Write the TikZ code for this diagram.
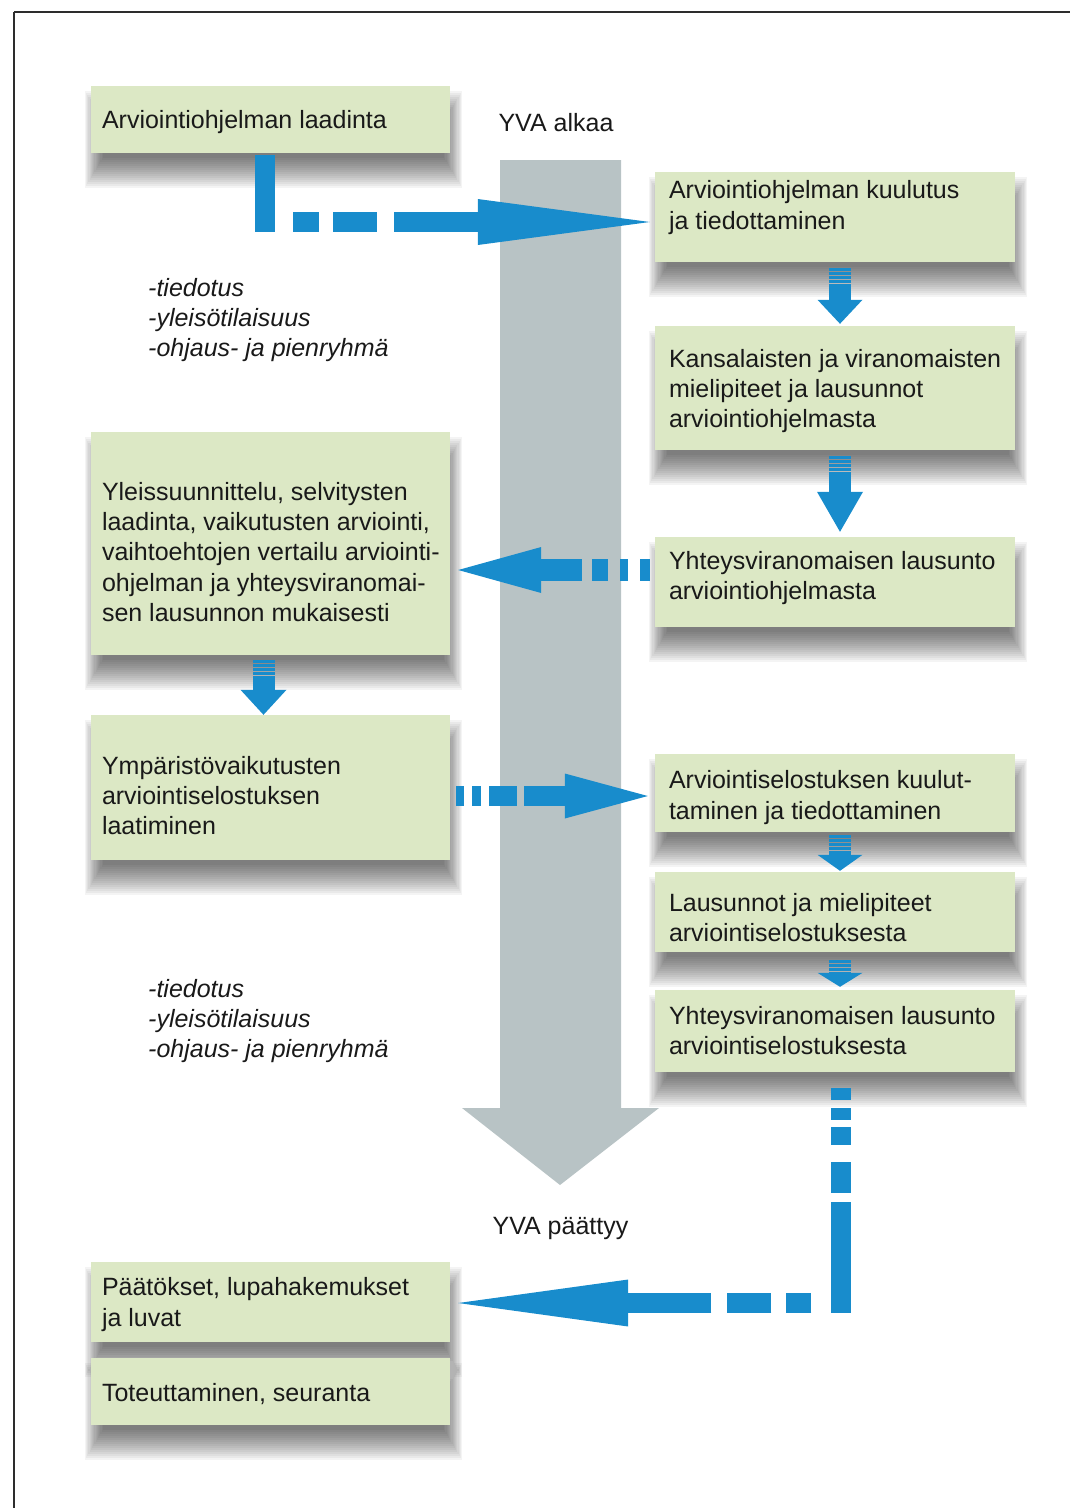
\documentclass[tikz,border=0pt]{standalone}
\usepackage{fontspec}
\setmainfont{Liberation Sans}
\usetikzlibrary{calc,arrows.meta,backgrounds}
\definecolor{boxg}{RGB}{220,232,197}
\definecolor{arrb}{RGB}{24,140,204}
\definecolor{colg}{RGB}{184,195,197}
\definecolor{txtc}{RGB}{25,25,25}
\definecolor{framec}{RGB}{45,45,45}
\newcommand\boxshade[1]{%
  \foreach \e in {-15,-13,...,15}{%
    \fill[black, fill opacity=0.045] ($(#1.north west)+({3-0.6*(\e)},{20-(\e)})$) rectangle ($(#1.south east)+({3+0.6*(\e)},{20+(\e)})$);
  }}
\tikzset{
  box/.style={rectangle, fill=boxg, draw=none, inner sep=0pt},
  lbox/.style={box, minimum width=359pt},
  rbox/.style={box, minimum width=360pt},
  txt/.style={font=\fontsize{25}{30.3}\selectfont, align=left, inner sep=0pt, anchor=west, text=txtc},
  itxt/.style={txt, font=\fontsize{25}{30.3}\selectfont\itshape},
  barrow/.style={draw=arrb, line width=20pt, line cap=butt, line join=miter},
  sarrow/.style={draw=arrb, line width=22pt, line cap=butt,
     dash pattern=on 2.5pt off 1.5pt on 2.5pt off 1.5pt on 2.5pt off 1.5pt on 2.5pt off 1.5pt on 300pt},
}
\begin{document}
\begin{tikzpicture}[x=1pt, y=-1pt]
\useasboundingbox (0,0) rectangle (1070,1508);
% frame
\draw[framec, line width=2.5pt] (14,12) -- (1070,12);
\draw[framec, line width=1.6pt] (14,12) -- (14,1508);

% boxes
\node[lbox, minimum height=67pt]  (b1)  at (270.5,119.5) {};
\node[rbox, minimum height=90pt]  (b2)  at (835,217) {};
\node[rbox, minimum height=124pt] (b3)  at (835,388) {};
\node[rbox, minimum height=90pt]  (b4)  at (835,582) {};
\node[lbox, minimum height=223pt] (b5)  at (270.5,543.5) {};
\node[lbox, minimum height=145pt] (b6)  at (270.5,787.5) {};
\node[rbox, minimum height=78pt]  (b7)  at (835,793) {};
\node[rbox, minimum height=80pt]  (b8)  at (835,912) {};
\node[rbox, minimum height=82pt]  (b9)  at (835,1031) {};
\node[lbox, minimum height=80pt]  (b10) at (270.5,1302) {};
\node[lbox, minimum height=67pt]  (b11) at (270.5,1391.5) {};

% texts
\node[txt] (t1) at ($(b1.west)+(11,3)$) {Arviointiohjelman laadinta};
\node[txt] (t2) at ($(b2.west)+(14,-9.5)$) {Arviointiohjelman kuulutus\\ja tiedottaminen};
\node[txt] (t3) at ($(b3.west)+(14,3)$) {Kansalaisten ja viranomaisten\\mielipiteet ja lausunnot\\arviointiohjelmasta};
\node[txt] (t4) at ($(b4.west)+(14,-4)$) {Yhteysviranomaisen lausunto\\arviointiohjelmasta};
\node[txt] (t5) at ($(b5.west)+(11,8.5)$) {Yleissuunnittelu, selvitysten\\laadinta, vaikutusten arviointi,\\vaihtoehtojen vertailu arviointi-\\ohjelman ja yhteysviranomai-\\sen lausunnon mukaisesti};
\node[txt] (t6) at ($(b6.west)+(11,8)$) {Ympäristövaikutusten\\arviointiselostuksen\\laatiminen};
\node[txt] (t7) at ($(b7.west)+(14,4.5)$) {Arviointiselostuksen kuulut-\\taminen ja tiedottaminen};
\node[txt] (t8) at ($(b8.west)+(14,5.5)$) {Lausunnot ja mielipiteet\\arviointiselostuksesta};
\node[txt] (t9) at ($(b9.west)+(14,-0.5)$) {Yhteysviranomaisen lausunto\\arviointiselostuksesta};
\node[txt] (t10) at ($(b10.west)+(11,2.5)$) {Päätökset, lupahakemukset\\ja luvat};
\node[txt] (t11) at ($(b11.west)+(11,3)$) {Toteuttaminen, seuranta};

\node[itxt] (i1) at (148,320) {-tiedotus\\-yleisötilaisuus\\-ohjaus- ja pienryhmä};
\node[itxt] (i2) at (148,1021) {-tiedotus\\-yleisötilaisuus\\-ohjaus- ja pienryhmä};

\node[txt, anchor=center] (yva1) at (556,122.5) {YVA alkaa};
\node[txt, anchor=center] (yva2) at (560.5,1228.5) {YVA päättyy};

% background: column and shadows
\begin{scope}[on background layer]
  \fill[colg] (500,160) -- (621,160) -- (621,1108) -- (659,1108) -- (560,1185)
     -- (462,1108) -- (500,1108) -- cycle;
  \foreach \b in {b1,b2,b3,b4,b5,b6,b7,b8,b9,b10,b11}{\boxshade{\b}}
\end{scope}

% blue connectors
\coordinate (s1) at ($(b1.south)+(-5.5,2)$);
\coordinate (e1) at ($(b2.west)+(-5,5)$);
\draw[barrow, dash pattern=on 77pt off 18pt on 26pt off 14pt on 44pt off 17pt on 600pt,
   -{Triangle[length=172pt,width=46pt,line width=0pt]}] (s1) |- (e1);

\draw[sarrow, -{Triangle[length=24pt,width=45pt,line width=0pt]}] ($(b2.south)+(5,6)$) -- ($(b3.north)+(5,-2)$);
\draw[sarrow, -{Triangle[length=40pt,width=46pt,line width=0pt]}] ($(b3.south)+(5,6)$) -- ($(b4.north)+(5,-5)$);
\draw[sarrow, -{Triangle[length=25pt,width=46pt,line width=0pt]}] ($(b5.south)+(-7,5)$) -- ($(b6.north)+(-7,0)$);
\draw[sarrow, -{Triangle[length=16pt,width=45pt,line width=0pt]}] ($(b7.south)+(5,3)$) -- ($(b8.north)+(5,-1)$);
\draw[sarrow, -{Triangle[length=14pt,width=45pt,line width=0pt]}] ($(b8.south)+(5,8)$) -- ($(b9.north)+(5,-3)$);

\coordinate (s3) at ($(b4.west)+(-5,-12)$);
\coordinate (m3) at (s3 -| b5.east);
\draw[barrow, line width=22pt, dash pattern=on 10pt off 12pt on 8pt off 12pt on 16pt off 10pt on 600pt,
   -{Triangle[length=83pt,width=46pt,line width=0pt]}] (s3) -- ($(m3)+(8,0)$);

\coordinate (s4) at ($(b6.east)+(6,8.5)$);
\coordinate (m4) at (s4 -| b7.west);
\draw[barrow, dash pattern=on 8pt off 8pt on 9pt off 8pt on 28pt off 7pt on 600pt,
   -{Triangle[length=83pt,width=45pt,line width=0pt]}] (s4) -- ($(m4)+(-7,0)$);

\coordinate (s5) at ($(b9.south)+(5.5,16)$);
\coordinate (e5) at ($(b10.east)+(8,1)$);
\draw[barrow, dash pattern=on 12pt off 8pt on 12pt off 7pt on 18pt off 17pt on 31pt off 9pt on 110pt off 20pt on 25pt off 15pt on 44pt off 16pt on 600pt,
   -{Triangle[length=170pt,width=47pt,line width=0pt]}] (s5) |- (e5);
\end{tikzpicture}
\end{document}
